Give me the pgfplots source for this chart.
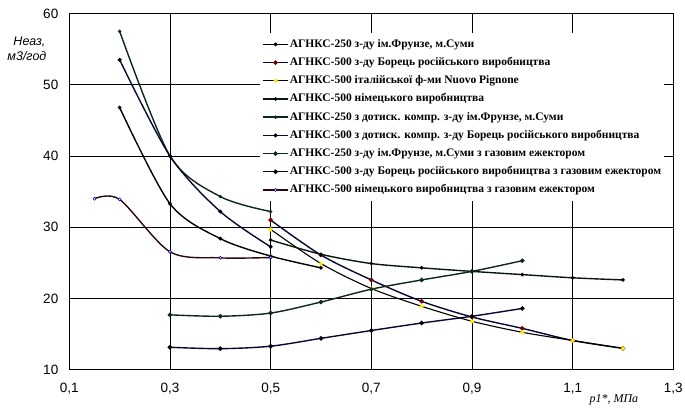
\documentclass[border=0pt]{standalone}
\usepackage{fontspec}
\setmainfont{Liberation Serif}
\setsansfont{Liberation Sans}
\usepackage{pgfplots}
\pgfplotsset{compat=1.18}
\definecolor{dgreen}{RGB}{12,40,25}
\definecolor{navyl}{RGB}{8,8,50}
\definecolor{dred}{RGB}{40,8,8}
\definecolor{teal2}{RGB}{0,150,140}
\definecolor{yel}{RGB}{255,230,0}
\begin{document}
\begin{tikzpicture}
\begin{axis}[
  scale only axis, width=604pt, height=356.2pt,
  at={(0pt,0pt)}, anchor=south west,
  xmin=0.1, xmax=1.3, ymin=10, ymax=60,
  xtick={0.1,0.3,0.5,0.7,0.9,1.1,1.3},
  ytick={10,20,30,40,50,60},
  grid=major, grid style={black, line width=0.8pt},
  axis line style={black, line width=1.2pt},
  major tick length=0pt,
  tick label style={font=\fontsize{13.5}{15}\selectfont\sffamily},
  /pgf/number format/assume math mode=true,
  xticklabel style={/pgf/number format/.cd, fixed, fixed zerofill, precision=1, use comma, /tikz/.cd, yshift=-10pt},
  yticklabel style={xshift=-7.5pt},
  legend cell align=left,
  legend style={at={(0.316,0.945)}, anchor=north west, draw=none, fill=white,
    font=\fontsize{11.5}{13}\selectfont\bfseries, inner sep=2pt, row sep=0pt,
    nodes={inner ysep=3.1pt, text height=9pt, text depth=3pt, inner xsep=1pt}},
  legend image code/.code={\draw[mark repeat=2,mark phase=2,#1] plot coordinates {(0cm,0cm) (0.44cm,0cm) (0.88cm,0cm)};},
  every axis plot/.append style={line width=1.4pt, smooth, mark size=1.5pt},
]
% 1
\addplot[black, mark=*, mark options={fill=black, draw=black, mark size=1.1pt}] coordinates {
(0.2,46.8) (0.3,33.3) (0.4,28.4) (0.5,25.95) (0.6,24.3)};
\addlegendentry{АГНКС-250 з-ду ім.Фрунзе, м.Суми}
% 2
\addplot[navyl, mark=*, mark options={fill=red!45!black, draw=red!45!black}] coordinates {
(0.5,31.0) (0.6,26.1) (0.7,22.6) (0.8,19.6) (0.9,17.4) (1.0,15.8) (1.1,14.1) (1.2,13.0)};
\addlegendentry{АГНКС-500 з-ду Борець російського виробництва}
% 3
\addplot[black, line width=1.1pt, mark=*, mark options={fill=yel, draw=yel}] coordinates {
(0.5,29.7) (0.6,24.9) (0.7,21.4) (0.8,18.9) (0.9,16.8) (1.0,15.25) (1.1,14.1) (1.2,13.0)};
\addlegendentry{АГНКС-500 італійської ф-ми Nuovo Pignone}
% 4
\addplot[dgreen!60!black, mark=*, mark options={fill=black, draw=black, mark size=1.0pt}] coordinates {
(0.5,28.2) (0.6,26.2) (0.7,24.9) (0.8,24.3) (0.9,23.8) (1.0,23.35) (1.1,22.9) (1.2,22.6)};
\addlegendentry{АГНКС-500 німецького виробництва}
% 5
\addplot[dgreen, mark=*, mark options={fill=dgreen, draw=dgreen, mark size=0.9pt}] coordinates {
(0.2,57.5) (0.3,40.0) (0.4,34.3) (0.5,32.2)};
\addlegendentry{АГНКС-250 з дотиск. компр. з-ду ім.Фрунзе, м.Суми}
% 6
\addplot[navyl, mark=*, mark options={fill=black, draw=black, mark size=1.2pt}] coordinates {
(0.2,53.5) (0.3,40.0) (0.4,32.2) (0.5,27.25)};
\addlegendentry{АГНКС-500 з дотиск. компр. з-ду Борець російського виробництва}
% 7
\addplot[dgreen, mark=*, mark options={fill=teal2, draw=dgreen}] coordinates {
(0.3,17.7) (0.4,17.5) (0.5,17.95) (0.6,19.5) (0.7,21.3) (0.8,22.6) (0.9,23.8) (1.0,25.3)};
\addlegendentry{АГНКС-250 з-ду ім.Фрунзе, м.Суми з газовим ежектором}
% 8
\addplot[navyl, mark=*, mark options={fill=red!35!black, draw=black}] coordinates {
(0.3,13.15) (0.4,12.95) (0.5,13.3) (0.6,14.4) (0.7,15.5) (0.8,16.55) (0.9,17.5) (1.0,18.6)};
\addlegendentry{АГНКС-500 з-ду Борець російського виробництва з газовим ежектором}
% 9
\addplot[dred, mark=*, mark options={fill=white, draw=blue!70!black, line width=0.6pt}] coordinates {
(0.15,34.0) (0.2,33.9) (0.3,26.55) (0.4,25.7) (0.5,25.75)};
\addlegendentry{АГНКС-500 німецького виробництва з газовим ежектором}
\end{axis}
\node[anchor=west, font=\fontsize{12.5}{14}\selectfont\sffamily\itshape, inner sep=0pt] at (-56pt,327.7pt) {Неаз,};
\node[anchor=west, font=\fontsize{12.5}{14}\selectfont\sffamily\itshape, inner sep=0pt] at (-62pt,313.7pt) {м3/год};
\node[anchor=west, font=\fontsize{12}{14}\selectfont\itshape, inner sep=0pt] at (520pt,-30pt) {p1*, МПа};
\pgfresetboundingbox
\path (-69.3pt,-37.3pt) rectangle (615.7pt,369.7pt);
\end{tikzpicture}
\end{document}
